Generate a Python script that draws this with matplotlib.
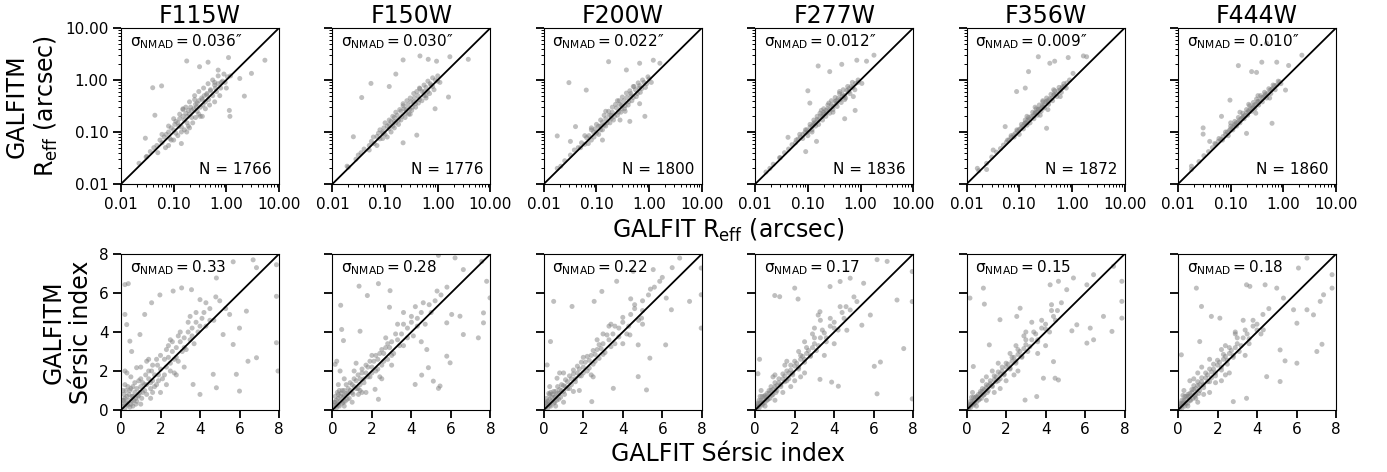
import matplotlib.pyplot as plt
from matplotlib.ticker import FormatStrFormatter, NullFormatter

# filters and the numbers printed in each panel
filters = ['F115W', 'F150W', 'F200W', 'F277W', 'F356W', 'F444W']
reff_sigma = ['0.036', '0.030', '0.022', '0.012', '0.009', '0.010']
reff_n = [1766, 1776, 1800, 1836, 1872, 1860]
sersic_sigma = ['0.33', '0.28', '0.22', '0.17', '0.15', '0.18']

# (GALFIT, GALFITM) effective radius in arcsec, sampled from the figure
f115w_reff = [(0.022, 0.025), (0.03, 0.033), (0.036, 0.042), (0.042, 0.05), (0.048, 0.055), (0.055, 0.07),
              (0.06, 0.062), (0.066, 0.08), (0.072, 0.09), (0.08, 0.1), (0.085, 0.075), (0.09, 0.12),
              (0.1, 0.11), (0.105, 0.14), (0.11, 0.095), (0.12, 0.15), (0.125, 0.13), (0.13, 0.18),
              (0.14, 0.125), (0.15, 0.2), (0.16, 0.17), (0.17, 0.23), (0.18, 0.15), (0.19, 0.26),
              (0.2, 0.22), (0.21, 0.3), (0.22, 0.19), (0.24, 0.28), (0.26, 0.34), (0.28, 0.25),
              (0.3, 0.4), (0.32, 0.3), (0.34, 0.45), (0.36, 0.33), (0.38, 0.5), (0.4, 0.38),
              (0.43, 0.55), (0.46, 0.42), (0.5, 0.62), (0.55, 0.5), (0.6, 0.8), (0.65, 0.6),
              (0.7, 0.85), (0.78, 0.7), (0.85, 0.95), (0.95, 0.9), (1.05, 1.15), (0.25, 0.42),
              (0.3, 0.22), (0.15, 0.27),
              (0.05, 0.04), (0.06, 0.09), (0.07, 0.05), (0.08, 0.13), (0.09, 0.07), (0.1, 0.18),
              (0.1, 0.07), (0.11, 0.16), (0.12, 0.085), (0.13, 0.22), (0.14, 0.1), (0.15, 0.28),
              (0.16, 0.11), (0.17, 0.3), (0.18, 0.2), (0.19, 0.13), (0.2, 0.38), (0.22, 0.26),
              (0.23, 0.15), (0.25, 0.5), (0.26, 0.19), (0.28, 0.36), (0.3, 0.6), (0.32, 0.2),
              (0.35, 0.42), (0.37, 0.7), (0.4, 0.28), (0.42, 0.52), (0.45, 0.85), (0.48, 0.33),
              (0.5, 0.65), (0.55, 1.0), (0.6, 0.38), (0.62, 0.7), (0.7, 1.2), (0.75, 0.5),
              (0.8, 0.9), (0.9, 1.3), (1.0, 0.7), (1.2, 1.2), (0.35, 0.2), (0.2, 0.12),
              (0.08, 0.055), (0.6, 0.9), (0.27, 0.3),
              (0.177, 2.32), (0.04, 0.71), (0.059, 0.77), (5.4, 2.4), (3.0, 1.34), (2.2, 0.49),
              (1.14, 0.26), (1.17, 0.2), (0.044, 0.21), (0.029, 0.076), (0.14, 0.06), (0.177, 0.1),
              (0.031, 0.034), (0.31, 1.8), (0.45, 2.2), (1.1, 2.7), (0.7, 1.55), (1.8, 1.07)]
f150w_reff = [(0.02, 0.021), (0.028, 0.03), (0.035, 0.04), (0.04, 0.047), (0.05, 0.055), (0.055, 0.066),
              (0.062, 0.06), (0.07, 0.082), (0.075, 0.095), (0.08, 0.074), (0.09, 0.1), (0.095, 0.12),
              (0.1, 0.09), (0.11, 0.13), (0.12, 0.115), (0.13, 0.16), (0.14, 0.13), (0.15, 0.19),
              (0.16, 0.15), (0.17, 0.21), (0.18, 0.17), (0.2, 0.25), (0.21, 0.2), (0.23, 0.28),
              (0.25, 0.23), (0.27, 0.33), (0.29, 0.27), (0.31, 0.38), (0.33, 0.3), (0.36, 0.45),
              (0.38, 0.35), (0.42, 0.5), (0.45, 0.42), (0.5, 0.6), (0.55, 0.5), (0.6, 0.72),
              (0.65, 0.6), (0.72, 0.85), (0.8, 0.75), (0.9, 1.0), (1.0, 0.95), (0.22, 0.35),
              (0.3, 0.22), (0.12, 0.17), (0.45, 0.7), (0.6, 0.45),
              (0.05, 0.045), (0.06, 0.08), (0.07, 0.055), (0.08, 0.11), (0.09, 0.075), (0.1, 0.15),
              (0.11, 0.08), (0.12, 0.14), (0.13, 0.1), (0.14, 0.2), (0.15, 0.12), (0.16, 0.24),
              (0.18, 0.14), (0.19, 0.27), (0.2, 0.17), (0.22, 0.32), (0.24, 0.19), (0.26, 0.4),
              (0.28, 0.22), (0.3, 0.45), (0.32, 0.26), (0.35, 0.55), (0.38, 0.3), (0.4, 0.6),
              (0.43, 0.36), (0.46, 0.68), (0.5, 0.4), (0.55, 0.8), (0.6, 0.5), (0.65, 0.95),
              (0.7, 0.55), (0.8, 1.1), (0.85, 0.65), (1.0, 1.2), (1.1, 0.9), (0.25, 0.27),
              (0.35, 0.38), (0.15, 0.16), (0.55, 0.6), (0.75, 0.8),
              (0.22, 2.43), (0.46, 2.9), (0.66, 2.5), (0.95, 2.3), (1.7, 2.8), (3.8, 2.5),
              (0.054, 0.86), (0.036, 0.46), (0.025, 0.081), (0.12, 0.75), (0.16, 1.3), (1.6, 0.47),
              (0.89, 0.28), (0.4, 0.087), (0.22, 0.062), (0.093, 0.094), (0.019, 0.022), (0.031, 0.036)]
f200w_reff = [(0.018, 0.02), (0.025, 0.028), (0.032, 0.036), (0.038, 0.045), (0.045, 0.05), (0.052, 0.062),
              (0.06, 0.058), (0.065, 0.078), (0.072, 0.085), (0.08, 0.07), (0.088, 0.1), (0.095, 0.115),
              (0.1, 0.095), (0.11, 0.13), (0.12, 0.11), (0.13, 0.155), (0.14, 0.135), (0.15, 0.18),
              (0.16, 0.15), (0.175, 0.21), (0.19, 0.18), (0.2, 0.24), (0.22, 0.2), (0.24, 0.29),
              (0.26, 0.24), (0.28, 0.34), (0.3, 0.28), (0.33, 0.4), (0.35, 0.32), (0.38, 0.46),
              (0.41, 0.38), (0.45, 0.55), (0.5, 0.46), (0.55, 0.65), (0.6, 0.55), (0.66, 0.78),
              (0.72, 0.68), (0.8, 0.9), (0.9, 0.85), (1.0, 1.05), (0.15, 0.25), (0.25, 0.4),
              (0.35, 0.25), (0.08, 0.12), (0.5, 0.75),
              (0.05, 0.05), (0.06, 0.085), (0.07, 0.06), (0.08, 0.11), (0.09, 0.08), (0.1, 0.14),
              (0.11, 0.09), (0.12, 0.17), (0.13, 0.11), (0.14, 0.21), (0.15, 0.13), (0.17, 0.25),
              (0.18, 0.15), (0.2, 0.3), (0.21, 0.17), (0.23, 0.34), (0.25, 0.21), (0.27, 0.4),
              (0.29, 0.24), (0.31, 0.47), (0.34, 0.28), (0.37, 0.56), (0.4, 0.33), (0.43, 0.62),
              (0.47, 0.4), (0.52, 0.75), (0.57, 0.48), (0.62, 0.88), (0.68, 0.58), (0.75, 1.0),
              (0.85, 0.72), (0.95, 1.15), (1.1, 0.9), (0.19, 0.21), (0.3, 0.33), (0.45, 0.5),
              (0.12, 0.13), (0.65, 0.7),
              (0.17, 2.25), (0.03, 0.89), (0.064, 0.64), (0.018, 0.084), (0.032, 0.066), (0.04, 0.127),
              (0.37, 1.56), (0.66, 2.1), (1.2, 2.4), (1.6, 2.1), (0.83, 0.2), (0.43, 0.16),
              (0.13, 0.07), (0.021, 0.022), (0.66, 0.35), (0.28, 0.17)]
f277w_reff = [(0.016, 0.017), (0.022, 0.024), (0.03, 0.032), (0.036, 0.04), (0.043, 0.047), (0.05, 0.057),
              (0.058, 0.062), (0.065, 0.073), (0.072, 0.08), (0.08, 0.09), (0.088, 0.098), (0.095, 0.11),
              (0.1, 0.1), (0.11, 0.125), (0.12, 0.13), (0.13, 0.15), (0.14, 0.15), (0.15, 0.175),
              (0.16, 0.17), (0.175, 0.205), (0.19, 0.2), (0.2, 0.24), (0.22, 0.23), (0.24, 0.28),
              (0.26, 0.27), (0.28, 0.33), (0.3, 0.31), (0.33, 0.39), (0.35, 0.36), (0.38, 0.45),
              (0.41, 0.42), (0.45, 0.53), (0.5, 0.5), (0.55, 0.63), (0.6, 0.6), (0.66, 0.75),
              (0.72, 0.72), (0.8, 0.86), (0.9, 0.9), (0.18, 0.26), (0.25, 0.36), (0.4, 0.6),
              (0.3, 0.24), (0.12, 0.1), (0.5, 0.42),
              (0.06, 0.07), (0.07, 0.09), (0.08, 0.075), (0.09, 0.11), (0.1, 0.085), (0.11, 0.14),
              (0.12, 0.11), (0.13, 0.17), (0.14, 0.13), (0.15, 0.2), (0.16, 0.14), (0.17, 0.23),
              (0.19, 0.17), (0.2, 0.28), (0.22, 0.2), (0.24, 0.33), (0.26, 0.23), (0.28, 0.4),
              (0.3, 0.27), (0.33, 0.46), (0.36, 0.31), (0.4, 0.55), (0.43, 0.37), (0.47, 0.65),
              (0.52, 0.45), (0.57, 0.75), (0.63, 0.55), (0.7, 0.9), (0.78, 0.65), (0.9, 1.0),
              (0.22, 0.26), (0.35, 0.4), (0.45, 0.48), (0.13, 0.14), (0.6, 0.68), (0.2, 0.22),
              (0.157, 1.86), (0.44, 2.0), (0.85, 2.4), (1.3, 2.3), (1.8, 3.0), (0.1, 0.62),
              (0.109, 0.36), (0.79, 0.26), (0.5, 0.18), (0.146, 0.066), (0.091, 0.042), (0.042, 0.079),
              (0.029, 0.032), (0.019, 0.02), (0.26, 1.45), (1.06, 0.86), (0.73, 0.48)]
f356w_reff = [(0.017, 0.018), (0.024, 0.025), (0.03, 0.033), (0.037, 0.041), (0.044, 0.048), (0.05, 0.056),
              (0.057, 0.064), (0.064, 0.07), (0.07, 0.079), (0.078, 0.088), (0.085, 0.095), (0.092, 0.105),
              (0.1, 0.112), (0.108, 0.12), (0.116, 0.13), (0.125, 0.145), (0.135, 0.15), (0.145, 0.168),
              (0.155, 0.175), (0.17, 0.2), (0.185, 0.205), (0.2, 0.235), (0.215, 0.24), (0.235, 0.275),
              (0.255, 0.28), (0.275, 0.32), (0.3, 0.33), (0.32, 0.38), (0.35, 0.38), (0.38, 0.44),
              (0.41, 0.44), (0.45, 0.52), (0.5, 0.54), (0.55, 0.62), (0.6, 0.64), (0.66, 0.74),
              (0.72, 0.76), (0.8, 0.88), (0.2, 0.3), (0.28, 0.4), (0.14, 0.2), (0.35, 0.27),
              (0.45, 0.65), (0.6, 0.48),
              (0.06, 0.07), (0.07, 0.085), (0.08, 0.08), (0.09, 0.11), (0.1, 0.09), (0.11, 0.14),
              (0.12, 0.115), (0.13, 0.17), (0.14, 0.135), (0.15, 0.19), (0.16, 0.15), (0.18, 0.24),
              (0.19, 0.18), (0.21, 0.28), (0.22, 0.21), (0.24, 0.33), (0.26, 0.25), (0.28, 0.38),
              (0.3, 0.29), (0.33, 0.45), (0.36, 0.34), (0.4, 0.53), (0.43, 0.4), (0.47, 0.62),
              (0.52, 0.48), (0.57, 0.72), (0.63, 0.58), (0.7, 0.85), (0.78, 0.7), (0.9, 1.0),
              (0.23, 0.27), (0.34, 0.4), (0.46, 0.52), (0.13, 0.15), (0.65, 0.7), (0.2, 0.23),
              (0.28, 0.3),
              (0.23, 2.8), (0.15, 1.45), (0.38, 2.1), (0.47, 2.3), (0.85, 2.7), (1.65, 2.9),
              (1.9, 2.8), (0.089, 0.6), (0.13, 0.7), (0.054, 0.127), (0.032, 0.045), (0.024, 0.019),
              (0.016, 0.02), (0.33, 0.118), (0.25, 0.21), (1.05, 1.34)]
f444w_reff = [(0.018, 0.019), (0.025, 0.027), (0.031, 0.035), (0.038, 0.042), (0.045, 0.05), (0.052, 0.058),
              (0.058, 0.066), (0.065, 0.072), (0.072, 0.082), (0.08, 0.09), (0.087, 0.1), (0.095, 0.108),
              (0.1, 0.115), (0.11, 0.125), (0.118, 0.135), (0.128, 0.15), (0.138, 0.155), (0.148, 0.172),
              (0.16, 0.18), (0.172, 0.2), (0.186, 0.21), (0.2, 0.235), (0.22, 0.245), (0.24, 0.28),
              (0.26, 0.29), (0.28, 0.33), (0.3, 0.34), (0.33, 0.39), (0.36, 0.4), (0.39, 0.46),
              (0.42, 0.47), (0.46, 0.54), (0.5, 0.55), (0.56, 0.64), (0.62, 0.68), (0.68, 0.78),
              (0.75, 0.8), (0.85, 0.92), (0.15, 0.24), (0.22, 0.34), (0.33, 0.5), (0.1, 0.15),
              (0.3, 0.23), (0.55, 0.45),
              (0.05, 0.06), (0.06, 0.075), (0.07, 0.07), (0.08, 0.1), (0.09, 0.085), (0.1, 0.13),
              (0.11, 0.11), (0.12, 0.16), (0.13, 0.13), (0.14, 0.19), (0.15, 0.15), (0.17, 0.23),
              (0.18, 0.18), (0.2, 0.27), (0.21, 0.21), (0.23, 0.32), (0.25, 0.25), (0.27, 0.37),
              (0.29, 0.28), (0.31, 0.43), (0.34, 0.33), (0.37, 0.5), (0.4, 0.38), (0.44, 0.58),
              (0.48, 0.45), (0.53, 0.68), (0.58, 0.55), (0.64, 0.8), (0.7, 0.65), (0.8, 0.95),
              (0.9, 0.85), (0.22, 0.26), (0.33, 0.38), (0.45, 0.5), (0.12, 0.14), (0.6, 0.66),
              (0.17, 0.19), (0.27, 0.3),
              (0.14, 1.89), (0.48, 5.1), (0.25, 1.45), (0.31, 1.4), (0.39, 2.2), (0.75, 2.2),
              (1.26, 1.9), (2.25, 3.0), (0.097, 0.41), (0.067, 0.2), (0.03, 0.091), (0.03, 0.12),
              (0.04, 0.066), (0.018, 0.022), (0.2, 0.094), (0.61, 0.147), (1.1, 0.64)]

# (GALFIT, GALFITM) Sersic index, sampled from the figure
f115w_n = [(0.1, 0.2), (0.15, 0.5), (0.2, 0.1), (0.25, 0.35), (0.3, 0.7), (0.35, 0.25), (0.4, 0.5),
           (0.45, 1.0), (0.5, 0.3), (0.55, 0.7), (0.6, 1.2), (0.65, 0.5), (0.7, 0.9), (0.75, 0.3),
           (0.8, 1.1), (0.85, 0.7), (0.9, 1.5), (0.95, 0.9), (1.0, 1.2), (1.05, 0.6), (1.1, 1.4),
           (1.2, 1.0), (1.25, 1.8), (1.3, 1.3), (1.4, 1.6), (1.5, 1.1), (1.55, 2.0), (1.6, 1.5),
           (1.7, 1.8), (1.8, 1.3), (1.85, 2.3), (1.9, 1.8), (2.0, 2.1), (2.1, 1.6), (2.2, 2.6),
           (2.3, 2.2), (2.4, 2.7), (2.5, 2.0), (2.6, 3.0), (2.7, 2.6), (2.8, 3.2), (2.9, 2.5),
           (3.0, 3.5), (3.1, 3.0), (3.2, 3.7), (3.3, 3.1), (3.4, 4.0), (3.5, 3.6), (3.6, 4.2),
           (3.7, 3.4), (3.8, 4.5), (3.9, 4.0), (4.1, 4.7), (4.3, 4.3), (4.5, 5.2), (4.7, 4.6),
           (5.0, 5.6), (5.3, 5.2), (0.2, 1.3), (0.5, 1.7), (1.0, 2.2), (1.0, 0.3), (1.5, 0.6),
           (2.0, 0.9), (2.3, 1.3), (2.8, 1.8), (3.2, 2.2), (1.4, 2.6), (0.3, 1.9), (2.5, 3.6),
           (0.1, 0.5), (0.15, 0.8), (0.2, 0.6), (0.25, 1.0), (0.3, 0.3), (0.35, 1.2), (0.4, 0.8),
           (0.45, 0.15), (0.5, 1.1), (0.55, 0.45), (0.6, 0.7), (0.7, 1.4), (0.75, 0.6), (0.8, 0.45),
           (0.9, 0.75), (1.0, 1.6), (1.1, 0.9), (1.2, 1.3), (1.3, 0.8), (1.4, 2.0), (1.5, 1.4),
           (1.6, 2.3), (1.7, 1.2), (1.8, 2.6), (1.9, 1.5), (2.0, 2.8), (2.2, 1.8), (2.3, 3.1),
           (2.5, 2.4), (2.6, 3.5), (2.8, 2.7), (3.0, 4.0), (3.2, 3.2), (3.4, 4.5), (3.6, 3.8),
           (3.8, 5.0), (4.0, 4.3), (4.3, 5.5), (4.5, 4.6), (4.8, 5.8), (0.6, 0.2), (1.3, 2.5),
           (2.4, 3.3), (2.9, 3.8), (3.5, 4.8), (4.2, 5.0), (1.6, 0.9), (2.7, 1.9), (0.05, 0.3),
           (0.1, 1.0),
           (0.2, 6.43), (0.37, 6.48), (0.2, 4.9), (1.2, 4.9), (1.55, 5.5), (1.97, 5.9), (2.64, 6.1),
           (3.07, 6.26), (3.57, 6.17), (4.0, 5.66), (4.83, 6.77), (5.68, 7.6), (6.69, 7.7),
           (6.86, 7.3), (7.87, 7.45), (7.87, 5.83), (7.87, 3.45), (7.95, 2.0), (6.43, 2.5),
           (6.86, 2.68), (5.68, 3.36), (5.84, 1.83), (6.0, 0.97), (4.83, 1.14), (4.67, 1.83),
           (4.0, 0.8), (3.65, 1.31), (5.17, 3.87), (0.45, 3.53), (0.54, 3.0), (0.96, 3.87),
           (0.79, 2.17), (0.2, 2.0), (0.29, 4.38), (5.5, 4.9), (6.35, 5.07), (6.0, 4.2)]
f150w_n = [(0.1, 0.15), (0.15, 0.4), (0.2, 0.1), (0.25, 0.3), (0.3, 0.6), (0.35, 0.2), (0.4, 0.45),
           (0.45, 0.85), (0.5, 0.35), (0.55, 0.65), (0.6, 1.0), (0.65, 0.45), (0.7, 0.85), (0.8, 1.1),
           (0.85, 0.6), (0.9, 1.0), (1.0, 1.3), (1.05, 0.8), (1.1, 1.2), (1.2, 1.5), (1.3, 1.1),
           (1.4, 1.6), (1.5, 1.9), (1.6, 1.4), (1.7, 1.9), (1.8, 2.2), (1.9, 1.7), (2.0, 2.2),
           (2.1, 2.5), (2.2, 2.0), (2.3, 2.6), (2.4, 2.9), (2.5, 2.3), (2.6, 2.9), (2.7, 3.2),
           (2.8, 2.6), (2.9, 3.2), (3.0, 3.5), (3.1, 2.9), (3.3, 3.6), (3.5, 3.9), (3.6, 3.3),
           (3.8, 4.2), (4.0, 4.5), (4.1, 3.8), (4.3, 4.7), (4.5, 5.0), (4.7, 4.4), (4.9, 5.4),
           (5.2, 5.6), (5.5, 5.9), (5.8, 6.3), (0.3, 1.3), (0.6, 1.6), (1.2, 2.4), (1.0, 0.4),
           (1.7, 0.9), (2.5, 1.6), (3.0, 2.3), (3.6, 5.0), (4.5, 3.5), (1.4, 1.0),
           (0.1, 0.4), (0.15, 0.7), (0.2, 0.5), (0.25, 0.9), (0.3, 0.25), (0.35, 1.0), (0.4, 0.7),
           (0.5, 1.0), (0.55, 0.4), (0.6, 0.75), (0.7, 1.3), (0.75, 0.55), (0.8, 0.85), (0.9, 1.4),
           (1.0, 0.9), (1.1, 1.6), (1.2, 1.1), (1.3, 1.8), (1.4, 1.3), (1.5, 2.1), (1.6, 1.6),
           (1.7, 2.3), (1.8, 1.7), (1.9, 2.5), (2.0, 1.9), (2.2, 2.8), (2.3, 2.1), (2.5, 3.1),
           (2.6, 2.5), (2.8, 3.4), (3.0, 2.8), (3.2, 3.9), (3.4, 3.3), (3.6, 4.4), (3.8, 3.7),
           (4.0, 4.8), (4.3, 4.3), (4.6, 5.5), (5.0, 5.0), (5.3, 6.1), (0.6, 0.2), (1.1, 2.0),
           (2.0, 2.8), (2.7, 3.7), (3.3, 4.4), (1.5, 0.9), (2.4, 1.7), (0.05, 0.25), (0.3, 0.8),
           (4.2, 5.3),
           (0.42, 5.37), (1.35, 6.35), (1.77, 5.87), (2.33, 6.48), (2.92, 6.12), (2.89, 5.27),
           (0.47, 4.13), (0.56, 3.56), (1.4, 4.04), (0.14, 2.34), (0.39, 2.0), (0.22, 2.5),
           (5.37, 7.93), (6.21, 7.8), (6.63, 7.2), (7.56, 7.62), (7.81, 6.6), (7.98, 5.75),
           (7.65, 4.98), (7.65, 4.47), (7.39, 3.7), (6.63, 3.87), (6.46, 4.81), (6.04, 4.9),
           (5.79, 4.47), (5.79, 2.76), (5.96, 2.42), (5.37, 1.11), (5.45, 1.23), (5.11, 1.48),
           (4.86, 2.17), (4.19, 1.31), (4.52, 1.79), (4.78, 3.1), (2.16, 1.06), (2.33, 0.55),
           (1.32, 0.8)]
f200w_n = [(0.1, 0.15), (0.15, 0.35), (0.2, 0.1), (0.25, 0.3), (0.3, 0.55), (0.35, 0.2), (0.4, 0.45),
           (0.45, 0.8), (0.5, 0.35), (0.55, 0.65), (0.6, 0.95), (0.65, 0.5), (0.7, 0.85), (0.8, 1.05),
           (0.85, 0.65), (0.9, 1.0), (1.0, 1.25), (1.05, 0.8), (1.1, 1.2), (1.2, 1.45), (1.3, 1.1),
           (1.4, 1.6), (1.5, 1.85), (1.6, 1.45), (1.7, 1.9), (1.8, 2.1), (1.9, 1.75), (2.0, 2.2),
           (2.1, 2.45), (2.2, 2.0), (2.3, 2.55), (2.4, 2.8), (2.5, 2.35), (2.6, 2.85), (2.7, 3.1),
           (2.8, 2.65), (2.9, 3.15), (3.0, 3.4), (3.1, 2.95), (3.3, 3.6), (3.5, 3.9), (3.6, 3.4),
           (3.8, 4.2), (4.0, 4.5), (4.2, 3.9), (4.4, 4.9), (4.6, 5.2), (4.8, 4.6), (5.0, 5.6),
           (5.3, 5.9), (5.6, 6.3), (6.0, 6.8), (6.5, 7.3), (0.3, 1.2), (0.8, 1.9), (1.0, 0.4),
           (1.8, 1.0), (2.5, 1.7), (3.3, 4.3), (4.0, 3.4), (5.0, 4.4), (3.0, 3.9),
           (0.1, 0.4), (0.15, 0.6), (0.2, 0.45), (0.25, 0.85), (0.3, 0.25), (0.35, 0.9), (0.4, 0.65),
           (0.5, 0.95), (0.55, 0.4), (0.6, 0.7), (0.7, 1.2), (0.75, 0.55), (0.8, 0.85), (0.9, 1.3),
           (1.0, 0.95), (1.1, 1.55), (1.2, 1.1), (1.3, 1.75), (1.4, 1.3), (1.5, 2.05), (1.6, 1.6),
           (1.7, 2.25), (1.8, 1.75), (1.9, 2.45), (2.0, 1.9), (2.2, 2.75), (2.3, 2.15), (2.5, 3.05),
           (2.6, 2.5), (2.8, 3.35), (3.0, 2.85), (3.2, 3.85), (3.4, 3.25), (3.6, 4.3), (3.8, 3.75),
           (4.0, 4.75), (4.3, 4.3), (4.6, 5.4), (5.0, 5.1), (5.4, 6.2), (0.6, 0.2), (1.0, 1.9),
           (2.0, 2.7), (2.7, 3.6), (3.4, 4.4), (1.5, 0.95), (2.4, 1.8), (0.05, 0.2), (0.3, 0.8),
           (4.4, 5.7),
           (0.5, 5.57), (1.43, 5.31), (0.34, 3.51), (0.17, 2.31), (0.67, 1.63), (2.55, 5.57),
           (2.94, 6.08), (3.69, 6.6), (4.53, 7.11), (5.54, 7.2), (5.87, 6.6), (6.2, 5.74),
           (6.46, 5.14), (6.88, 7.79), (7.38, 5.57), (7.97, 7.28), (7.97, 5.91), (7.97, 4.2),
           (6.17, 3.34), (5.2, 1.03), (4.78, 1.71), (5.37, 2.66), (3.52, 1.11), (2.43, 0.43),
           (4.78, 3.34), (4.36, 3.85), (4.95, 4.71)]
f277w_n = [(0.1, 0.12), (0.15, 0.3), (0.2, 0.1), (0.25, 0.35), (0.3, 0.5), (0.35, 0.25), (0.4, 0.5),
           (0.45, 0.7), (0.5, 0.4), (0.55, 0.65), (0.6, 0.85), (0.65, 0.55), (0.7, 0.85), (0.8, 1.0),
           (0.85, 0.75), (0.9, 1.05), (1.0, 1.2), (1.05, 0.9), (1.1, 1.25), (1.2, 1.4), (1.3, 1.2),
           (1.4, 1.6), (1.5, 1.75), (1.6, 1.5), (1.7, 1.9), (1.8, 2.05), (1.9, 1.8), (2.0, 2.25),
           (2.1, 2.4), (2.2, 2.1), (2.3, 2.6), (2.4, 2.75), (2.5, 2.45), (2.6, 2.9), (2.7, 3.05),
           (2.8, 2.75), (2.9, 3.2), (3.0, 3.4), (3.1, 3.05), (3.3, 3.7), (3.5, 3.95), (3.6, 3.5),
           (3.8, 4.3), (4.0, 4.5), (4.2, 4.1), (4.4, 5.0), (4.6, 5.3), (0.3, 1.0), (0.9, 1.7),
           (1.0, 0.5), (1.8, 1.2), (2.3, 1.7), (2.5, 3.5), (3.0, 4.2), (3.5, 2.8), (1.5, 2.3),
           (4.0, 3.4),
           (0.05, 0.15), (0.1, 0.35), (0.15, 0.2), (0.2, 0.5), (0.3, 0.3), (0.35, 0.7), (0.4, 0.35),
           (0.5, 0.75), (0.6, 0.5), (0.7, 1.0), (0.75, 0.6), (0.8, 1.2), (0.9, 0.8), (1.0, 1.4),
           (1.1, 1.0), (1.2, 1.6), (1.3, 1.3), (1.4, 1.85), (1.5, 1.45), (1.6, 2.0), (1.7, 1.6),
           (1.8, 2.3), (1.9, 1.9), (2.0, 2.5), (2.2, 2.2), (2.3, 2.8), (2.5, 2.6), (2.6, 3.2),
           (2.8, 2.8), (3.0, 3.7), (3.2, 3.3), (3.4, 4.1), (3.6, 3.7), (3.8, 4.7), (4.0, 4.2),
           (4.3, 5.3), (4.5, 4.7), (5.0, 5.8), (0.5, 0.2), (1.0, 1.8), (1.6, 2.5), (2.2, 3.0),
           (2.9, 3.9), (1.4, 0.9), (2.5, 1.9), (0.25, 0.7), (3.3, 4.6), (2.0, 1.5),
           (0.99, 5.87), (1.24, 5.81), (0.22, 2.6), (0.14, 1.86), (2.0, 6.25), (2.17, 5.69),
           (3.28, 5.04), (3.19, 4.87), (3.79, 6.33), (4.3, 6.59), (4.81, 6.76), (5.49, 6.5),
           (6.17, 7.71), (6.68, 7.62), (7.18, 5.64), (7.95, 7.1), (7.95, 5.56), (7.52, 3.15),
           (6.34, 2.46), (6.03, 2.24), (6.17, 0.83), (7.95, 0.57), (3.87, 1.43), (4.21, 1.22),
           (3.28, 1.57), (4.64, 4.09), (5.4, 4.35), (4.81, 5.13), (5.83, 4.87), (5.15, 5.56)]
f356w_n = [(0.1, 0.1), (0.15, 0.25), (0.2, 0.12), (0.25, 0.3), (0.3, 0.45), (0.35, 0.25), (0.4, 0.5),
           (0.45, 0.65), (0.5, 0.4), (0.55, 0.65), (0.6, 0.8), (0.65, 0.55), (0.7, 0.85), (0.8, 0.95),
           (0.85, 0.75), (0.9, 1.05), (1.0, 1.15), (1.05, 0.9), (1.1, 1.25), (1.2, 1.35), (1.3, 1.2),
           (1.4, 1.55), (1.5, 1.7), (1.6, 1.5), (1.7, 1.85), (1.8, 2.0), (1.9, 1.8), (2.0, 2.2),
           (2.1, 2.35), (2.2, 2.1), (2.3, 2.5), (2.4, 2.7), (2.5, 2.4), (2.6, 2.85), (2.7, 3.0),
           (2.8, 2.7), (2.9, 3.15), (3.0, 3.35), (3.1, 3.0), (3.3, 3.6), (3.5, 3.9), (3.6, 3.5),
           (3.8, 4.2), (4.0, 4.4), (4.2, 4.0), (4.4, 4.8), (4.6, 5.1), (0.3, 0.9), (0.8, 1.5),
           (1.0, 0.5), (1.7, 1.1), (2.4, 1.8), (2.5, 3.3), (3.0, 4.0), (3.6, 2.9), (1.3, 2.0),
           (4.0, 3.3), (4.3, 5.4),
           (0.05, 0.15), (0.1, 0.3), (0.15, 0.2), (0.2, 0.45), (0.3, 0.3), (0.35, 0.65), (0.4, 0.35),
           (0.5, 0.7), (0.6, 0.5), (0.7, 0.95), (0.75, 0.6), (0.8, 1.1), (0.9, 0.8), (1.0, 1.3),
           (1.1, 1.0), (1.2, 1.5), (1.3, 1.25), (1.4, 1.75), (1.5, 1.45), (1.6, 1.95), (1.7, 1.6),
           (1.8, 2.2), (1.9, 1.85), (2.0, 2.4), (2.2, 2.15), (2.3, 2.7), (2.5, 2.5), (2.6, 3.1),
           (2.8, 2.75), (3.0, 3.6), (3.2, 3.25), (3.4, 4.0), (3.6, 3.6), (3.8, 4.6), (4.0, 4.15),
           (4.3, 5.1), (4.5, 4.6), (0.5, 0.2), (1.0, 1.7), (1.6, 2.4), (2.2, 2.9), (2.9, 3.8),
           (1.4, 0.9), (2.6, 2.0), (0.25, 0.65), (3.3, 4.5), (2.0, 1.5), (4.8, 5.5),
           (0.17, 5.74), (0.85, 6.25), (0.9, 5.43), (1.69, 4.63), (1.15, 3.34), (0.34, 2.23),
           (2.54, 4.8), (2.71, 5.22), (4.23, 6.42), (4.65, 6.6), (5.07, 6.17), (5.41, 6.77),
           (6.09, 6.42), (6.43, 6.94), (7.44, 7.37), (7.86, 6.6), (6.93, 4.8), (7.36, 4.03),
           (6.43, 3.6), (6.09, 3.43), (6.26, 4.2), (4.48, 1.63), (4.65, 1.54), (3.55, 0.69),
           (2.96, 0.51), (4.4, 2.48), (3.89, 1.63), (5.33, 4.06), (5.58, 4.37), (7.86, 4.71),
           (7.86, 5.57)]
f444w_n = [(0.1, 0.12), (0.15, 0.3), (0.2, 0.1), (0.25, 0.35), (0.3, 0.5), (0.35, 0.2), (0.4, 0.55),
           (0.45, 0.7), (0.5, 0.35), (0.55, 0.7), (0.6, 0.85), (0.65, 0.5), (0.7, 0.9), (0.8, 1.05),
           (0.85, 0.7), (0.9, 1.1), (1.0, 1.25), (1.05, 0.85), (1.1, 1.3), (1.2, 1.45), (1.3, 1.15),
           (1.4, 1.65), (1.5, 1.8), (1.6, 1.45), (1.7, 1.95), (1.8, 2.1), (1.9, 1.75), (2.0, 2.3),
           (2.1, 2.45), (2.2, 2.05), (2.3, 2.6), (2.4, 2.75), (2.5, 2.35), (2.6, 2.9), (2.7, 3.05),
           (2.8, 2.7), (2.9, 3.2), (3.0, 3.4), (3.1, 3.0), (3.3, 3.7), (3.5, 3.9), (3.6, 3.4),
           (3.8, 4.3), (4.0, 4.4), (4.2, 3.9), (0.3, 1.0), (0.8, 1.6), (1.0, 0.4), (1.6, 0.9),
           (2.2, 1.5), (2.4, 3.3), (2.9, 3.9), (3.4, 2.8), (1.2, 2.2), (0.9, 0.6), (2.6, 1.9),
           (0.05, 0.15), (0.1, 0.35), (0.15, 0.2), (0.2, 0.5), (0.3, 0.3), (0.35, 0.7), (0.4, 0.35),
           (0.5, 0.8), (0.6, 0.5), (0.7, 1.05), (0.75, 0.6), (0.8, 1.25), (0.9, 0.8), (1.0, 1.45),
           (1.1, 1.0), (1.2, 1.65), (1.3, 1.3), (1.4, 1.9), (1.5, 1.45), (1.6, 2.1), (1.7, 1.65),
           (1.8, 2.35), (1.9, 1.9), (2.0, 2.55), (2.2, 2.2), (2.3, 2.85), (2.5, 2.55), (2.6, 3.2),
           (2.8, 2.8), (3.0, 3.7), (3.2, 3.3), (3.4, 4.1), (3.6, 3.65), (3.8, 4.6), (4.0, 4.1),
           (4.3, 4.9), (0.5, 0.2), (1.0, 1.9), (1.6, 2.6), (2.2, 3.1), (2.9, 4.0), (1.3, 0.8),
           (2.4, 1.8), (0.25, 0.75), (3.3, 4.6), (1.9, 1.4), (4.6, 5.2), (0.6, 1.5),
           (0.17, 2.83), (0.93, 6.25), (1.19, 5.31), (1.1, 3.51), (1.69, 4.8), (2.12, 4.71),
           (3.47, 6.42), (3.64, 6.34), (4.41, 6.42), (5.0, 6.25), (5.34, 5.74), (5.85, 5.14),
           (6.02, 4.45), (6.53, 5.14), (6.86, 4.88), (7.2, 5.57), (7.37, 5.91), (7.8, 6.25),
           (7.8, 6.94), (7.03, 3.0), (7.29, 3.37), (6.02, 2.4), (5.42, 2.52), (5.17, 1.46),
           (4.49, 1.71), (3.47, 0.6), (2.8, 0.43), (4.32, 4.11), (5.17, 3.08), (6.1, 7.28),
           (6.53, 7.79)]

reff_data = [f115w_reff, f150w_reff, f200w_reff, f277w_reff, f356w_reff, f444w_reff]
sersic_data = [f115w_n, f150w_n, f200w_n, f277w_n, f356w_n, f444w_n]

W, H = 1387, 472
fig = plt.figure(figsize=(W / 100, H / 100), dpi=100)

pt_kw = dict(s=13, color='gray', alpha=0.5, edgecolors='none')

for i, name in enumerate(filters):
    left = (121 + i * 211.4) / W
    w = 158 / W
    h = 156 / H

    # effective radius row
    ax = fig.add_axes([left, 1 - 184 / H, w, h])
    gx, gy = zip(*reff_data[i])
    ax.scatter(gx, gy, **pt_kw)
    ax.plot([0.01, 10], [0.01, 10], color='black', lw=1.3)
    ax.set_xscale('log')
    ax.set_yscale('log')
    ax.set_xlim(0.01, 10)
    ax.set_ylim(0.01, 10)
    ax.set_xticks([0.01, 0.1, 1, 10])
    ax.set_yticks([0.01, 0.1, 1, 10])
    for axis in (ax.xaxis, ax.yaxis):
        axis.set_major_formatter(FormatStrFormatter('%.2f'))
        axis.set_minor_formatter(NullFormatter())
    ax.tick_params(which='major', direction='out', length=5.5, width=1.3, labelsize=11)
    ax.tick_params(which='minor', direction='out', length=2.5, width=0.7)
    ax.set_title(name, fontsize=17, pad=3.5)
    ax.text(0.055, 0.975, r'$\mathrm{\sigma_{NMAD}} = %s$″' % reff_sigma[i], transform=ax.transAxes,
            ha='left', va='top', fontsize=11)
    ax.text(0.955, 0.045, 'N = %d' % reff_n[i], transform=ax.transAxes,
            ha='right', va='bottom', fontsize=11)
    if i == 0:
        ax.set_ylabel('GALFITM\n' + r'$\mathrm{R_{eff}}$ (arcsec)', fontsize=17)
    else:
        ax.tick_params(labelleft=False)
    for sp in ax.spines.values():
        sp.set_linewidth(0.8)

    # sersic index row
    ax2 = fig.add_axes([left, 1 - 410 / H, w, h])
    sx, sy = zip(*sersic_data[i])
    ax2.scatter(sx, sy, **pt_kw)
    ax2.plot([0, 8], [0, 8], color='black', lw=1.3)
    ax2.set_xlim(0, 8)
    ax2.set_ylim(0, 8)
    ax2.set_xticks([0, 2, 4, 6, 8])
    ax2.set_yticks([0, 2, 4, 6, 8])
    ax2.tick_params(which='major', direction='out', length=5.5, width=1.3, labelsize=11)
    ax2.text(0.055, 0.975, r'$\mathrm{\sigma_{NMAD}} = %s$' % sersic_sigma[i], transform=ax2.transAxes,
             ha='left', va='top', fontsize=11)
    if i == 0:
        ax2.set_ylabel('GALFITM\nSérsic index', fontsize=17)
    else:
        ax2.tick_params(labelleft=False)
    for sp in ax2.spines.values():
        sp.set_linewidth(0.8)

fig.text(728 / W, 1 - 230 / H, r'GALFIT $\mathrm{R_{eff}}$ (arcsec)', ha='center', va='center', fontsize=17)
fig.text(728 / W, 1 - 454 / H, 'GALFIT Sérsic index', ha='center', va='center', fontsize=17)

fig.savefig('out.png', dpi=100)
